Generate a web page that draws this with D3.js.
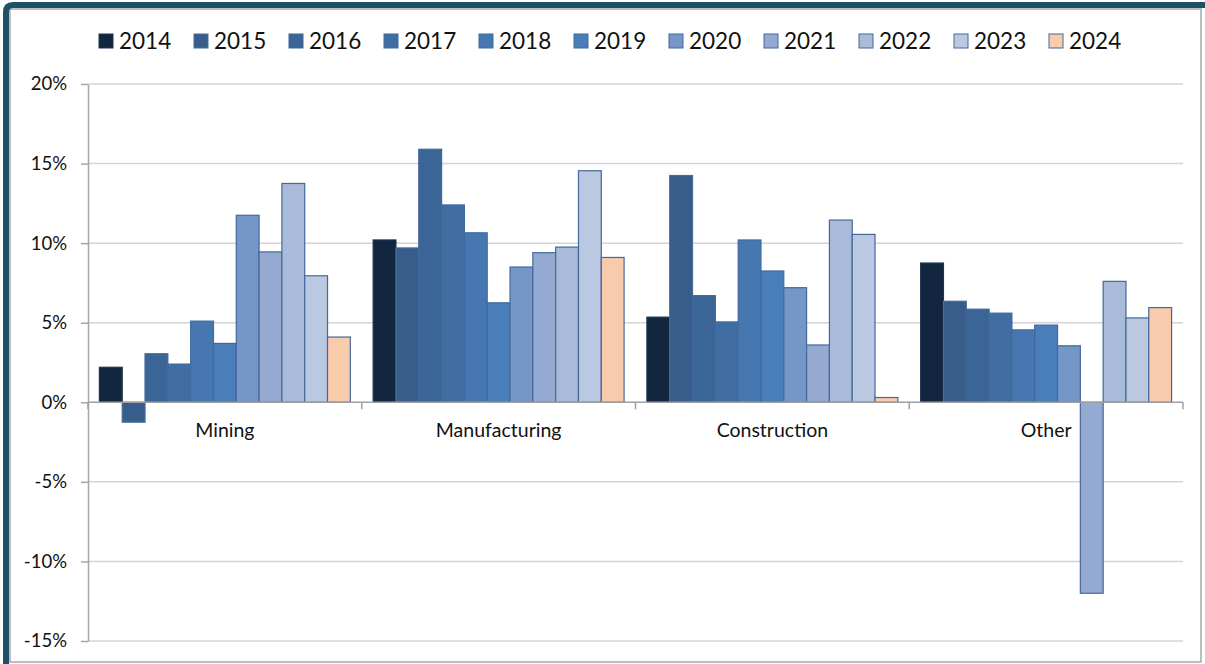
<!DOCTYPE html>
<html>
<head>
<meta charset="utf-8">
<script src="https://cdn.jsdelivr.net/npm/d3@7"></script>
<style>
  body { margin: 0; background: #fff; }
  svg { display: block; font-family: Lato, "Open Sans", sans-serif; }
</style>
</head>
<body>
<svg id="chart" width="1205" height="664"></svg>
<script>
const categories = ["Mining", "Manufacturing", "Construction", "Other"];
const years = ["2014", "2015", "2016", "2017", "2018", "2019", "2020", "2021", "2022", "2023", "2024"];
// growth in %, one array per category, ordered by year
const mining        = [2.2, -1.25, 3.05, 2.4, 5.1, 3.7, 11.75, 9.45, 13.75, 7.95, 4.1];
const manufacturing = [10.2, 9.7, 15.9, 12.4, 10.65, 6.25, 8.5, 9.4, 9.75, 14.55, 9.1];
const construction  = [5.35, 14.25, 6.7, 5.05, 10.2, 8.25, 7.2, 3.6, 11.45, 10.55, 0.3];
const other         = [8.75, 6.35, 5.85, 5.6, 4.55, 4.85, 3.55, -12.0, 7.6, 5.3, 5.95];
const yTicks = [-15, -10, -5, 0, 5, 10, 15, 20];

const fills = ["#12263f", "#385d8b", "#3c6597", "#406da2", "#4677b0", "#4a7ebb",
               "#7597c8", "#94aad1", "#aabbd9", "#bbc8e1", "#f8cbad"];
const strokes = ["#1c3352", "#4a6c98", "#40679a", "#3f6a9e", "#3f6ca3", "#41699e",
                 "#45689a", "#45689a", "#45689a", "#45689a", "#45689a"];

const values = [mining, manufacturing, construction, other];
const data = [];
categories.forEach((c, i) => years.forEach((yr, j) => data.push({cat: c, year: yr, v: values[i][j], k: j})));

const svg = d3.select("#chart");
const M = {left: 88, right: 1183, top: 84, bottom: 641};

// frame
svg.append("rect").attr("x", 10).attr("y", 9).attr("width", 1191).attr("height", 653)
  .attr("fill", "#fff").attr("stroke", "#a9a9a9").attr("stroke-width", 1.5);
svg.append("path").attr("d", "M6,664 L6,12 Q6,5 13,5 L1205,5")
  .attr("fill", "none").attr("stroke", "#1f5068").attr("stroke-width", 6);

const x0 = d3.scaleBand().domain(categories).range([M.left, M.right]).paddingInner(0).paddingOuter(0);
const x1 = d3.scaleBand().domain(years).range([0, x0.bandwidth()]).paddingInner(0).paddingOuter(0.5);
const y = d3.scaleLinear().domain([-15, 20]).range([M.bottom, M.top]);

// gridlines
svg.append("g").selectAll("line").data(yTicks.filter(t => t !== 0)).join("line")
  .attr("x1", M.left).attr("x2", M.right)
  .attr("y1", d => y(d)).attr("y2", d => y(d))
  .attr("stroke", "#d4d4d4").attr("stroke-width", 1.5);

// y axis
const yAxis = svg.append("g").attr("transform", `translate(${M.left},0)`)
  .call(d3.axisLeft(y).tickValues(yTicks).tickFormat(d => d + "%").tickSize(7).tickSizeOuter(0).tickPadding(14));
yAxis.select(".domain").attr("stroke", "#a6a6a6").attr("stroke-width", 1.5);
yAxis.selectAll(".tick line").attr("stroke", "#a6a6a6").attr("stroke-width", 1.5);
yAxis.selectAll("text").attr("font-size", 18.5).attr("fill", "#111").attr("font-family", "Lato, sans-serif");

// bars
svg.append("g").selectAll("rect").data(data).join("rect")
  .attr("x", d => x0(d.cat) + x1(d.year))
  .attr("width", x1.bandwidth())
  .attr("y", d => y(Math.max(0, d.v)))
  .attr("height", d => Math.abs(y(d.v) - y(0)))
  .attr("fill", d => fills[d.k])
  .attr("stroke", d => strokes[d.k])
  .attr("stroke-width", 1.2);

// zero axis with category ticks
const xAxis = svg.append("g").attr("transform", `translate(0,${y(0)})`);
xAxis.append("line").attr("x1", M.left).attr("x2", M.right).attr("stroke", "#a0a0a0").attr("stroke-width", 1.5);
xAxis.selectAll(".ct").data(categories.map(c => x0(c)).concat([M.right])).join("line")
  .attr("x1", d => d).attr("x2", d => d).attr("y1", 0).attr("y2", 7)
  .attr("stroke", "#a0a0a0").attr("stroke-width", 1.5);
xAxis.selectAll("text").data(categories).join("text")
  .attr("x", d => x0(d) + x0.bandwidth() / 2).attr("y", 35)
  .attr("text-anchor", "middle").attr("font-size", 19.5).attr("fill", "#111")
  .text(d => d);

// legend
const legend = svg.append("g").attr("transform", "translate(99,41)");
const li = legend.selectAll("g").data(years).join("g")
  .attr("transform", (d, i) => `translate(${i * 95},0)`);
li.append("rect").attr("x", 0).attr("y", -7).attr("width", 14).attr("height", 14)
  .attr("fill", (d, i) => fills[i]).attr("stroke", (d, i) => strokes[i]).attr("stroke-width", 1);
li.append("text").attr("x", 20).attr("y", 8).attr("font-size", 22.5).attr("fill", "#111").text(d => d);
</script>
</body>
</html>
